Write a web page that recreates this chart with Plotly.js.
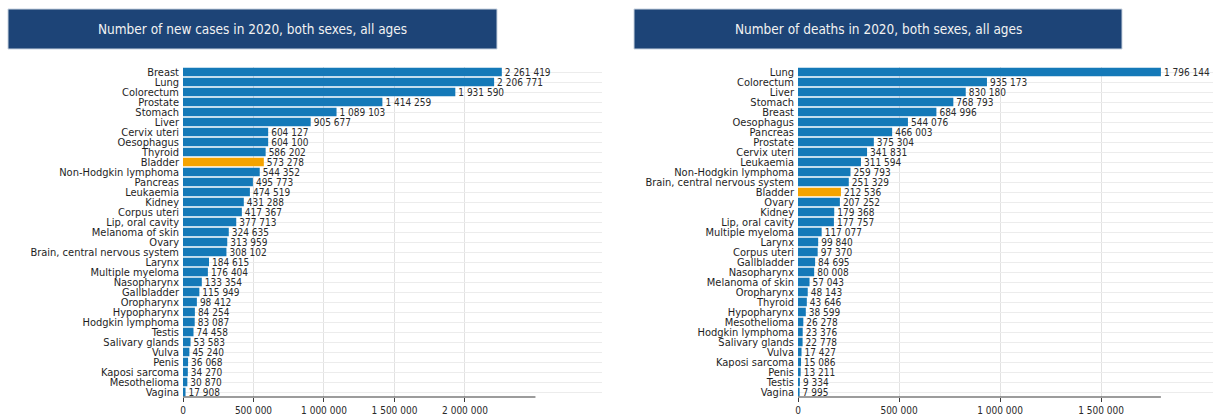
<!DOCTYPE html>
<html><head><meta charset="utf-8">
<script src="https://cdn.plot.ly/plotly-3.0.1.min.js"></script>
<style>html,body{margin:0;padding:0;background:#fff}#chart{width:1213px;height:418px}</style>
</head><body><div id="chart"></div>
<script>
const casesCategories = ['Breast','Lung','Colorectum','Prostate','Stomach','Liver','Cervix uteri','Oesophagus','Thyroid','Bladder','Non-Hodgkin lymphoma','Pancreas','Leukaemia','Kidney','Corpus uteri','Lip, oral cavity','Melanoma of skin','Ovary','Brain, central nervous system','Larynx','Multiple myeloma','Nasopharynx','Gallbladder','Oropharynx','Hypopharynx','Hodgkin lymphoma','Testis','Salivary glands','Vulva','Penis','Kaposi sarcoma','Mesothelioma','Vagina'];
const casesValues = [2261419,2206771,1931590,1414259,1089103,905677,604127,604100,586202,573278,544352,495773,474519,431288,417367,377713,324635,313959,308102,184615,176404,133354,115949,98412,84254,83087,74458,53583,45240,36068,34270,30870,17908];
const deathsCategories = ['Lung','Colorectum','Liver','Stomach','Breast','Oesophagus','Pancreas','Prostate','Cervix uteri','Leukaemia','Non-Hodgkin lymphoma','Brain, central nervous system','Bladder','Ovary','Kidney','Lip, oral cavity','Multiple myeloma','Larynx','Corpus uteri','Gallbladder','Nasopharynx','Melanoma of skin','Oropharynx','Thyroid','Hypopharynx','Mesothelioma','Hodgkin lymphoma','Salivary glands','Vulva','Kaposi sarcoma','Penis','Testis','Vagina'];
const deathsValues = [1796144,935173,830180,768793,684996,544076,466003,375304,341831,311594,259793,251329,212536,207252,179368,177757,117077,99840,97370,84695,80008,57043,48143,43646,38599,26278,23376,22778,17427,15086,13211,9334,7995];
const highlightCategory = 'Bladder';
const casesTicks = [0,500000,1000000,1500000,2000000];
const deathsTicks = [0,500000,1000000,1500000];
const casesTitle = 'Number of new cases in 2020, both sexes, all ages';
const deathsTitle = 'Number of deaths in 2020, both sexes, all ages';
const casesAxisEnd = 2500000;

const W = 1213, H = 418;
const fx = p => p / W, fy = p => 1 - p / H;
const BLUE = '#1479b8', ORANGE = '#f5a300', HEAD = '#1d4477';
const FONT = "'DejaVu Sans Condensed', 'Open Sans', sans-serif";
const yDom = [fy(397), fy(67)];

function barTrace(cats, vals, xa, ya) {
  return {
    type: 'bar', orientation: 'h', y: cats, x: vals, xaxis: xa, yaxis: ya,
    marker: {color: cats.map(c => c === highlightCategory ? ORANGE : BLUE)},
    texttemplate: '%{x:,}', textposition: 'outside', cliponaxis: false,
    constraintext: 'none', textfont: {size: 10, color: '#2a2a2a', family: FONT},
    hoverinfo: 'none'
  };
}

function xAxis(dom, max, ticks) {
  return {domain: dom, range: [0, max], tickmode: 'array', tickvals: ticks, tickformat: ',', ticks: 'outside',
    ticklen: 4, tickcolor: '#3a3a3a', showline: false, zeroline: false, showgrid: true,
    gridcolor: '#e2e2e2', gridwidth: 1, tickfont: {size: 10, color: '#2a2a2a', family: FONT}, fixedrange: true};
}
function yAxis(cats, anchor) {
  return {domain: yDom, type: 'category', categoryarray: cats, categoryorder: 'array',
    tickmode: 'array', tickvals: cats, ticktext: cats,
    autorange: 'reversed', anchor: anchor, showgrid: true, gridcolor: '#ececec', gridwidth: 1,
    ticks: '', showline: false, zeroline: false, ticklabelstandoff: 3,
    tickfont: {size: 11, color: '#1e1e1e', family: FONT}, fixedrange: true};
}

const data = [
  barTrace(casesCategories, casesValues, 'x', 'y'),
  barTrace(deathsCategories, deathsValues, 'x2', 'y2')
];

const layout = {
  width: W, height: H, margin: {l: 0, r: 0, t: 0, b: 0},
  paper_bgcolor: '#fff', plot_bgcolor: '#fff', showlegend: false,
  separators: '. ', bargap: 0.14,
  font: {family: FONT, color: '#222'},
  xaxis: xAxis([fx(183), fx(602)], 2972000, casesTicks),
  yaxis: yAxis(casesCategories, 'x'),
  xaxis2: xAxis([fx(798), 1], 2054000, deathsTicks),
  yaxis2: yAxis(deathsCategories, 'x2'),
  shapes: [
    {type: 'rect', xref: 'paper', yref: 'paper', x0: fx(8), x1: fx(497), y0: fy(49), y1: fy(9), fillcolor: HEAD, line: {color: '#c9d3e0', width: 1}, layer: 'above'},
    {type: 'rect', xref: 'paper', yref: 'paper', x0: fx(634), x1: fx(1122), y0: fy(49), y1: fy(9), fillcolor: HEAD, line: {color: '#c9d3e0', width: 1}, layer: 'above'},
    {type: 'line', xref: 'x', yref: 'paper', x0: 0, x1: casesAxisEnd, y0: yDom[0], y1: yDom[0], line: {color: '#3a3a3a', width: 1.2}},
    {type: 'line', xref: 'x2', yref: 'paper', x0: 0, x1: Math.max(...deathsValues), y0: yDom[0], y1: yDom[0], line: {color: '#3a3a3a', width: 1.2}}
  ],
  annotations: [
    {xref: 'paper', yref: 'paper', x: fx(252.5), y: fy(29), text: casesTitle, showarrow: false, xanchor: 'center', yanchor: 'middle', font: {size: 13.5, color: '#f2f2f2', family: FONT}},
    {xref: 'paper', yref: 'paper', x: fx(878), y: fy(29), text: deathsTitle, showarrow: false, xanchor: 'center', yanchor: 'middle', font: {size: 13.5, color: '#f2f2f2', family: FONT}}
  ]
};

Plotly.newPlot('chart', data, layout, {staticPlot: true, displayModeBar: false});
</script></body></html>
